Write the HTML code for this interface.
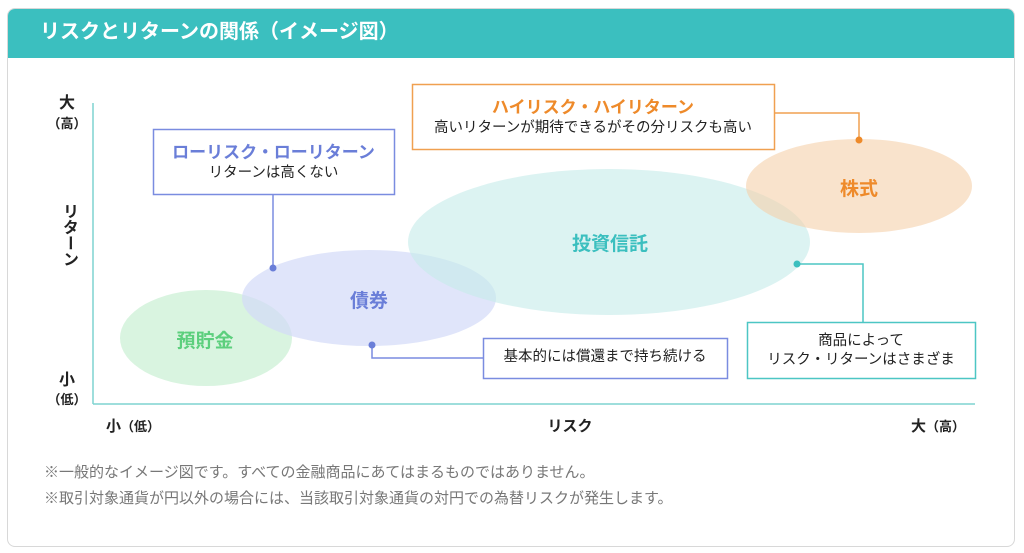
<!DOCTYPE html>
<html><head><meta charset="utf-8"><style>
body{margin:0;width:1024px;height:553px;background:#fff;font-family:"Liberation Sans","Noto Sans CJK JP",sans-serif;overflow:hidden}
.t{position:absolute;white-space:nowrap;}
</style></head><body>
<div style="position:absolute;left:7px;top:8px;width:1008px;height:539px;border:1px solid #d8d8d8;border-radius:8px;box-sizing:border-box;overflow:hidden">
<div style="height:49px;background:#3bbfbf"></div>
</div>
<div class="t" style="left:40px;top:19px;font-size:20px;font-weight:bold;color:#fff;line-height:26px">リスクとリターンの関係（イメージ図）</div>
<svg width="1024" height="553" style="position:absolute;left:0;top:0">
<line x1="93" y1="103" x2="93" y2="404" stroke="#7fd3d1" stroke-width="1.5"/>
<line x1="93" y1="404" x2="975" y2="404" stroke="#7fd3d1" stroke-width="1.5"/>
<ellipse cx="206" cy="338" rx="86" ry="48" fill="#c9f0d3" opacity="0.7"/>
<ellipse cx="369" cy="298" rx="127" ry="48" fill="#d3daf8" opacity="0.7"/>
<ellipse cx="609" cy="242" rx="201" ry="73" fill="#c4ebea" opacity="0.6"/>
<ellipse cx="859" cy="186" rx="113" ry="47" fill="#f5d0aa" opacity="0.6"/>
<polyline points="273,194 273,268" fill="none" stroke="#7a8ce0" stroke-width="1.5"/>
<circle cx="273" cy="268" r="3.5" fill="#6a7ed8"/>
<polyline points="372,345 372,358 483,358" fill="none" stroke="#7a8ce0" stroke-width="1.5"/>
<circle cx="372" cy="345" r="3.5" fill="#6a7ed8"/>
<polyline points="774,113 859,113 859,140" fill="none" stroke="#f0a050" stroke-width="1.5"/>
<circle cx="859" cy="140" r="3.5" fill="#ee8a2a"/>
<polyline points="797,264 863,264 863,322" fill="none" stroke="#4cc6c4" stroke-width="1.5"/>
<circle cx="797" cy="264" r="3.5" fill="#3bbfbf"/>
<rect x="153.5" y="129.5" width="241" height="65" fill="#fff" stroke="#7a8ce0" stroke-width="1.5"/>
<rect x="412.5" y="84.5" width="362" height="65" fill="#fff" stroke="#f0a050" stroke-width="1.5"/>
<rect x="483.5" y="338.5" width="244" height="40" fill="#fff" stroke="#7a8ce0" stroke-width="1.5"/>
<rect x="747.5" y="322.5" width="228" height="56" fill="#fff" stroke="#4cc6c4" stroke-width="1.5"/>
</svg>
<div class="t" style="left:153px;width:241px;top:142px;text-align:center;font-size:17px;font-weight:bold;color:#6a7ed8;line-height:21px">ローリスク・ローリターン</div>
<div class="t" style="left:153px;width:241px;top:164px;text-align:center;font-size:14.5px;color:#222;line-height:19px">リターンは高くない</div>
<div class="t" style="left:412px;width:362px;top:97px;text-align:center;font-size:17px;font-weight:bold;color:#ee8a2a;line-height:21px">ハイリスク・ハイリターン</div>
<div class="t" style="left:412px;width:362px;top:119px;text-align:center;font-size:14.5px;color:#222;line-height:19px">高いリターンが期待できるがその分リスクも高い</div>
<div class="t" style="left:483px;width:244px;top:348px;text-align:center;font-size:14.5px;color:#222;line-height:19px">基本的には償還まで持ち続ける</div>
<div class="t" style="left:747px;width:228px;top:332px;text-align:center;font-size:14.5px;color:#222;line-height:19px">商品によって<br>リスク・リターンはさまざま</div>
<div class="t" style="left:160px;width:90px;top:326px;text-align:center;font-size:19px;font-weight:bold;color:#5ccf7d">預貯金</div>
<div class="t" style="left:324px;width:90px;top:286px;text-align:center;font-size:19px;font-weight:bold;color:#6a7ed8">債券</div>
<div class="t" style="left:555px;width:110px;top:229px;text-align:center;font-size:19px;font-weight:bold;color:#3bbfbf">投資信託</div>
<div class="t" style="left:814px;width:90px;top:174px;text-align:center;font-size:19px;font-weight:bold;color:#ee8a2a">株式</div>
<div class="t" style="left:47px;width:40px;top:89px;text-align:center;font-size:16px;font-weight:bold;color:#222">大</div>
<div class="t" style="left:47px;width:40px;top:113px;text-align:center;font-size:13px;font-weight:bold;color:#222">（高）</div>
<div class="t" style="left:57px;width:20px;top:203px;text-align:center;font-size:16px;font-weight:bold;color:#222;line-height:18px;writing-mode:vertical-rl">リターン</div>
<div class="t" style="left:47px;width:40px;top:366px;text-align:center;font-size:16px;font-weight:bold;color:#222">小</div>
<div class="t" style="left:47px;width:40px;top:389px;text-align:center;font-size:13px;font-weight:bold;color:#222">（低）</div>
<div class="t" style="left:106px;top:415px;font-size:15px;font-weight:bold;color:#222">小<span style="font-size:13px">（低）</span></div>
<div class="t" style="left:535px;width:70px;top:415px;text-align:center;font-size:15px;font-weight:bold;color:#222">リスク</div>
<div class="t" style="left:911px;top:415px;font-size:15px;font-weight:bold;color:#222">大<span style="font-size:13px">（高）</span></div>
<div class="t" style="left:44px;top:463px;font-size:15px;color:#777;line-height:20px">※一般的なイメージ図です。すべての金融商品にあてはまるものではありません。</div>
<div class="t" style="left:44px;top:489px;font-size:15px;color:#777;line-height:20px">※取引対象通貨が円以外の場合には、当該取引対象通貨の対円での為替リスクが発生します。</div>
</body></html>
